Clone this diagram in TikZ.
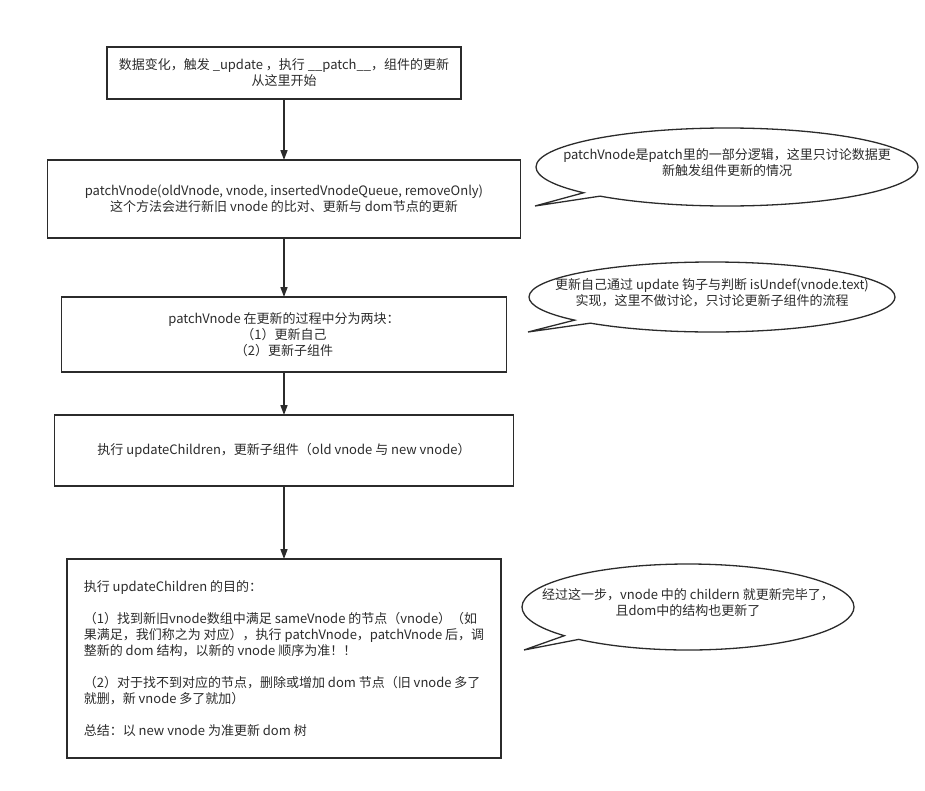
\documentclass[tikz,border=0pt]{standalone}
\usepackage{fontspec}
\setmainfont{Noto Sans CJK SC}
\usetikzlibrary{positioning, shapes.callouts, arrows.meta}
\definecolor{ink}{HTML}{2B2B2B}
\newcommand{\bubbletxt}[1]{\makebox[0pt]{\smash{\begin{tabular}{@{}c@{}}#1\end{tabular}}}}

\begin{document}
\begin{tikzpicture}[x=1pt, y=-1pt,
			stepbox/.style={rectangle, draw=ink, line width=1.6pt, outer sep=0pt, text=ink, align=center, font=\fontsize{13}{16}\selectfont},
			bubble/.style={ellipse callout, draw=ink, line width=1.3pt, text=ink, inner sep=0pt, callout pointer arc=7, font=\fontsize{13}{16}\selectfont},
			flow/.style={-{Triangle[width=7pt, length=10pt]}, draw=ink, line width=1.6pt}
			]
			\useasboundingbox (0,0) rectangle (925,790);
			\node[stepbox, minimum width=354pt, minimum height=52pt] (start) at (284,73) {数据变化，触发 \_update ，执行 \_\_patch\_\_，组件的更新\\从这里开始};
			\node[stepbox, minimum width=473pt, minimum height=78pt] (patch) [below=61pt of start] {patchVnode(oldVnode, vnode, insertedVnodeQueue, removeOnly)\\这个方法会进行新旧 vnode 的比对、更新与 dom节点的更新};
			\node[stepbox, minimum width=445pt, minimum height=75pt] (split) [below=59pt of patch] {patchVnode 在更新的过程中分为两块：\\（1）更新自己\\（2）更新子组件};
			\node[stepbox, minimum width=459pt, minimum height=71pt] (children) [below=43pt of split] {执行 updateChildren，更新子组件（old vnode 与 new vnode）};
			\node[stepbox, align=left, minimum width=434pt, minimum height=199pt] (goal) [below=73pt of children] {执行 updateChildren 的目的：\\[16pt]
				（1）找到新旧vnode数组中满足 sameVnode 的节点（vnode）（如\\
				果满足，我们称之为 对应），执行 patchVnode，patchVnode 后，调\\
				整新的 dom 结构，以新的 vnode 顺序为准！！\\[16pt]
				（2）对于找不到对应的节点，删除或增加 dom 节点（旧 vnode 多了\\
				就删，新 vnode 多了就加）\\[16pt]
				总结：以 new vnode 为准更新 dom 树};
			
			\draw[flow] (start) -- (start |- patch.north);
			\draw[flow] (patch) -- (patch |- split.north);
			\draw[flow] (split) -- (split |- children.north);
			\draw[flow] (children) -- (children |- goal.north);
			
			% notes on the right
			\node[bubble, minimum width=382pt, minimum height=78pt, callout absolute pointer={(535,206)}] (note1) at (727,167) {\bubbletxt{patchVnode是patch里的一部分逻辑，这里只讨论数据更\\新触发组件更新的情况}};
			\node[bubble, minimum width=366pt, minimum height=70pt, callout absolute pointer={(528,332)}] (note2) at (712,297) {\bubbletxt{更新自己通过 update 钩子与判断 isUndef(vnode.text)\\实现，这里不做讨论，只讨论更新子组件的流程}};
			\node[bubble, minimum width=332pt, minimum height=86pt, callout absolute pointer={(524,650)}] (note3) at (688,607) {\bubbletxt{经过这一步，vnode 中的 childern 就更新完毕了，\\且dom中的结构也更新了}};
		\end{tikzpicture}
\end{document}
